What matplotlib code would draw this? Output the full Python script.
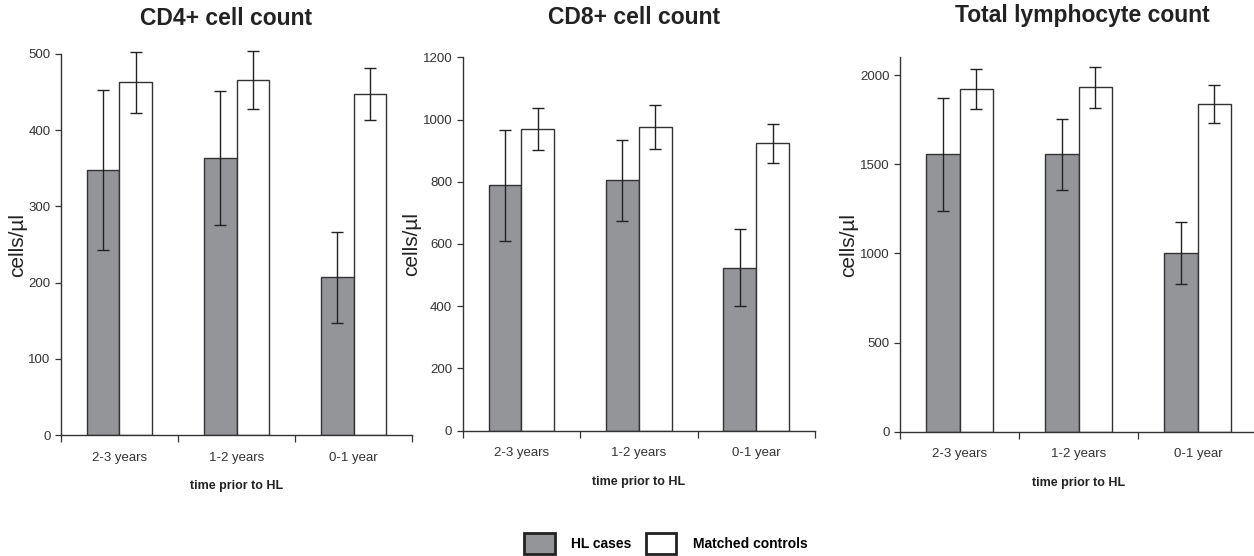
import numpy as np
import matplotlib.pyplot as plt
from matplotlib.patches import Patch

plt.rcParams['font.family'] = ['Liberation Sans', 'DejaVu Sans']

periods = ['2-3 years', '1-2 years', '0-1 year']

# CD4+ cell count
cd4_hl = [348, 363, 207]
cd4_hl_err = [105, 88, 60]
cd4_ctrl = [463, 466, 448]
cd4_ctrl_err = [40, 38, 34]

# CD8+ cell count
cd8_hl = [788, 804, 524]
cd8_hl_err = [177, 131, 123]
cd8_ctrl = [969, 977, 923]
cd8_ctrl_err = [68, 71, 64]

# Total lymphocyte count
tot_hl = [1555, 1555, 1005]
tot_hl_err = [318, 197, 174]
tot_ctrl = [1923, 1931, 1838]
tot_ctrl_err = [113, 113, 104]

gray = '#939598'
edge = '#333333'

fig = plt.figure(figsize=(12.54, 5.56), dpi=100)

# title, data, axes rect, ymax, yticks, title position (x, y in figure fraction)
panels = [
    ('CD4+ cell count', cd4_hl, cd4_hl_err, cd4_ctrl, cd4_ctrl_err,
     [0.0486, 0.2176, 0.280, 0.6853], 500, np.arange(0, 501, 100), (0.180, 0.967)),
    ('CD8+ cell count', cd8_hl, cd8_hl_err, cd8_ctrl, cd8_ctrl_err,
     [0.369, 0.2254, 0.281, 0.6716], 1200, np.arange(0, 1201, 200), (0.506, 0.968)),
    ('Total lymphocyte count', tot_hl, tot_hl_err, tot_ctrl, tot_ctrl_err,
     [0.7177, 0.2236, 0.285, 0.6733], 2100, np.arange(0, 2001, 500), (0.863, 0.972)),
]

x = np.arange(len(periods))
w = 0.28

for title, hl, hl_err, ctrl, ctrl_err, pos, ymax, yticks, tpos in panels:
    ax = fig.add_axes(pos)
    ax.bar(x - w / 2, hl, w, color=gray, edgecolor=edge, linewidth=1.0)
    ax.bar(x + w / 2, ctrl, w, color='white', edgecolor=edge, linewidth=1.0)
    for xs, vals, errs in [(x - w / 2, hl, hl_err), (x + w / 2, ctrl, ctrl_err)]:
        eb = ax.errorbar(xs, vals, yerr=errs, fmt='none', ecolor='#222222',
                         elinewidth=1.0, capsize=4, capthick=1.0)
        for art in eb.lines[1] + eb.lines[2]:
            art.set_clip_on(False)

    ax.set_xlim(-0.5, len(periods) - 0.5)
    ax.set_ylim(0, ymax)
    ax.set_yticks(yticks)
    ax.tick_params(axis='y', labelsize=9.5, length=4, width=0.9, colors='#333333')
    ax.set_xticks(x)
    ax.set_xticklabels(periods)
    ax.tick_params(axis='x', which='major', length=0, labelsize=9.5, pad=12,
                   colors='#333333')
    ax.set_xticks(np.arange(-0.5, len(periods), 1.0), minor=True)
    ax.tick_params(axis='x', which='minor', length=5, width=0.9, colors='#333333')

    for s in ['top', 'right']:
        ax.spines[s].set_visible(False)
    for s in ['left', 'bottom']:
        ax.spines[s].set_color('#333333')
        ax.spines[s].set_linewidth(1.0)

    fig.text(tpos[0], tpos[1], title, fontsize=16.5, fontweight='bold',
             color='#222222', ha='center', va='center')
    ax.set_ylabel('cells/µl', fontsize=15, color='#222222', labelpad=1)
    ax.set_xlabel('time prior to HL', fontsize=9, fontweight='bold',
                  color='#222222', labelpad=12)

handles = [
    Patch(facecolor=gray, edgecolor='#222222', linewidth=2, label='HL cases'),
    Patch(facecolor='white', edgecolor='#222222', linewidth=2, label='Matched controls'),
]
fig.legend(handles=handles, loc='center', bbox_to_anchor=(0.531, 0.022), ncol=2,
           frameon=False, prop={'weight': 'bold', 'size': 10},
           handlelength=2.2, handleheight=1.9, handletextpad=1.2, columnspacing=1.0)

fig.savefig('out.png', dpi=100)
